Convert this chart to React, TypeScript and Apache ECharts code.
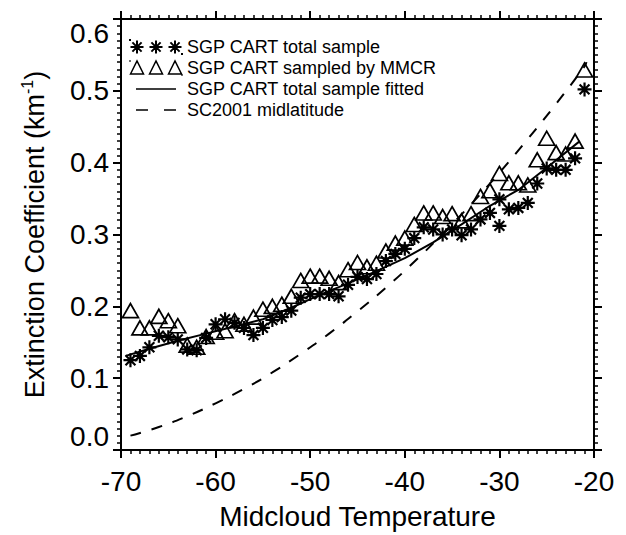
import React, { useEffect, useRef } from "react";
import * as echarts from "echarts";

const FONT = "'Liberation Sans', Arial, Helvetica, sans-serif";

const xTicks = [-70, -60, -50, -40, -30, -20];
const yTicks = [0.0, 0.1, 0.2, 0.3, 0.4, 0.5, 0.6];

const seriesNames = [
  "SGP CART total sample",
  "SGP CART sampled by MMCR",
  "SGP CART total sample fitted",
  "SC2001 midlatitude",
];

// SGP CART total sample (asterisks)
const totalT = [
  -69, -68, -67, -66, -65, -64, -63, -62, -61, -60, -59, -58, -57, -56, -55, -54, -53, -52, -51, -50,
  -49, -48, -47, -46, -45, -44, -43, -42, -41, -40, -39, -38, -37, -36, -35, -34, -33, -32, -31, -30,
  -30, -29, -28, -27, -26, -25, -24, -23, -22, -21,
];
const totalV = [
  0.125, 0.131, 0.143, 0.159, 0.157, 0.154, 0.14, 0.139, 0.156, 0.175, 0.182, 0.177, 0.17, 0.16, 0.17,
  0.181, 0.185, 0.194, 0.212, 0.217, 0.217, 0.217, 0.214, 0.23, 0.241, 0.238, 0.245, 0.263, 0.273, 0.28,
  0.295, 0.31, 0.307, 0.3, 0.307, 0.299, 0.307, 0.321, 0.33, 0.349, 0.312, 0.335, 0.337, 0.344, 0.371,
  0.392, 0.39, 0.39, 0.406, 0.502,
];

// SGP CART sampled by MMCR (triangles)
const mmcrT = [
  -69, -68, -67, -66, -65, -64, -63, -62, -61, -60, -59, -58, -57, -56, -55, -54, -53, -52, -51, -50,
  -49, -48, -47, -46, -45, -44, -43, -42, -41, -40, -39, -38, -37, -36, -35, -34, -33, -32, -31, -30,
  -29, -28, -27, -26, -25, -24, -23, -22, -21,
];
const mmcrV = [
  0.194, 0.17, 0.17, 0.186, 0.18, 0.173, 0.146, 0.143, 0.158, 0.164, 0.166, 0.18, 0.175, 0.185, 0.196,
  0.2, 0.203, 0.214, 0.236, 0.242, 0.242, 0.239, 0.233, 0.251, 0.261, 0.255, 0.26, 0.277, 0.288, 0.295,
  0.314, 0.33, 0.33, 0.325, 0.329, 0.319, 0.329, 0.353, 0.361, 0.385, 0.372, 0.372, 0.369, 0.404, 0.434,
  0.414, 0.412, 0.43, 0.529,
];

// fitted curve of the total sample
const fitT = [-69.5, -67, -64, -61, -58, -55, -52, -49, -46, -43, -40, -37, -34, -31, -28, -25, -21.5];
const fitV = [0.131, 0.141, 0.152, 0.162, 0.172, 0.182, 0.198, 0.216, 0.232, 0.249, 0.267, 0.289, 0.314, 0.34, 0.362, 0.393, 0.43];

// SC2001 midlatitude (dashed)
const scT = [-69, -66, -63, -60, -57, -54, -51, -48, -45, -42, -39, -36, -33, -30, -27, -24, -21, -20.8];
const scV = [0.02, 0.032, 0.047, 0.065, 0.085, 0.108, 0.134, 0.162, 0.193, 0.226, 0.262, 0.301, 0.342, 0.386, 0.433, 0.482, 0.534, 0.54];

const zip = (a: number[], b: number[]) => a.map((v, i) => [v, b[i]]);

function starPath(cx: number, cy: number, r: number) {
  const d = r * 0.7071;
  return (
    `M${cx} ${cy - r}L${cx} ${cy + r}M${cx - r} ${cy}L${cx + r} ${cy}` +
    `M${cx - d} ${cy - d}L${cx + d} ${cy + d}M${cx + d} ${cy - d}L${cx - d} ${cy + d}`
  );
}
function triPath(cx: number, w: number, h: number) {
  return `M${cx - w / 2} ${h}L${cx} 0L${cx + w / 2} ${h}Z`;
}
const STAR_SYMBOL = "path://" + starPath(10, 10, 10);
const BOX = "M0 0h0.01v0.01h-0.01zM51.99 13.99h0.01v0.01h-0.01z";
const LEG_STARS = "path://" + starPath(7, 7, 6.5) + starPath(26, 7, 6.5) + starPath(45, 7, 6.5) + BOX;
const LEG_TRIS = "path://" + triPath(7, 13, 13) + triPath(26, 13, 13) + triPath(45, 13, 13) + BOX;
const LEG_SOLID = "path://M6 6.2h40v1.6H6z" + BOX;
const LEG_DASH = "path://M6 6.2h12v1.6H6zM34 6.2h12v1.6H34z" + BOX;

export default function App() {
  const ref = useRef<HTMLDivElement>(null);
  useEffect(() => {
    if (!ref.current) return;
    const chart = echarts.init(ref.current, undefined, { renderer: "svg" });
    const axisLine = { show: true, onZero: false, lineStyle: { color: "#000", width: 2 } };
    const axisTick = { show: true, inside: false, length: 8, lineStyle: { color: "#000", width: 2 } };
    const minorTick = { show: true, splitNumber: 10, length: 4, lineStyle: { color: "#000", width: 1.5 } };
    const labelStyle = { color: "#000", fontSize: 28, fontFamily: FONT };
    chart.setOption({
      animation: false,
      backgroundColor: "#fff",
      grid: { left: 121, right: 32, top: 19, bottom: 84, containLabel: false },
      legend: {
        orient: "vertical",
        left: 129,
        top: 37,
        itemWidth: 52,
        itemHeight: 14,
        itemGap: 1,
        padding: 0,
        selectedMode: false,
        textStyle: { color: "#000", fontSize: 18, fontFamily: FONT, lineHeight: 20 },
        data: [
          { name: seriesNames[0], icon: LEG_STARS, itemStyle: { color: "transparent", borderColor: "#000", borderWidth: 2, opacity: 1 } },
          { name: seriesNames[1], icon: LEG_TRIS, itemStyle: { color: "transparent", borderColor: "#000", borderWidth: 1.5, opacity: 1 } },
          { name: seriesNames[2], icon: LEG_SOLID, itemStyle: { color: "#000", borderWidth: 0, opacity: 1 } },
          { name: seriesNames[3], icon: LEG_DASH, itemStyle: { color: "#000", borderWidth: 0, opacity: 1 } },
        ],
      },
      xAxis: [
        {
          type: "value",
          position: "bottom",
          min: xTicks[0],
          max: xTicks[xTicks.length - 1],
          interval: 10,
          axisLine,
          axisTick,
          minorTick,
          splitLine: { show: false },
          axisLabel: { ...labelStyle, margin: 17 },
          name: "Midcloud Temperature",
          nameLocation: "middle",
          nameGap: 52,
          nameTextStyle: { ...labelStyle },
        },
        {
          type: "value",
          position: "top",
          min: xTicks[0],
          max: xTicks[xTicks.length - 1],
          interval: 10,
          axisLine,
          axisTick,
          minorTick,
          splitLine: { show: false },
          axisLabel: { show: false },
        },
      ],
      yAxis: [
        {
          type: "value",
          position: "left",
          min: yTicks[0],
          max: yTicks[yTicks.length - 1],
          interval: 0.1,
          axisLine,
          axisTick,
          minorTick,
          splitLine: { show: false },
          axisLabel: {
            ...labelStyle,
            margin: 12,
            formatter: (v: number) => v.toFixed(1),
            verticalAlignMinLabel: "bottom",
            verticalAlignMaxLabel: "top",
          },
          name: "{a|Extinction Coefficient (km}{b|-1}{a|)}",
          nameLocation: "middle",
          nameGap: 70,
          nameRotate: 90,
          nameTextStyle: {
            rich: {
              a: { color: "#000", fontSize: 27, fontFamily: FONT, lineHeight: 32 },
              b: { color: "#000", fontSize: 16, fontFamily: FONT, lineHeight: 15, verticalAlign: "top" },
            },
          },
        },
        {
          type: "value",
          position: "right",
          min: yTicks[0],
          max: yTicks[yTicks.length - 1],
          interval: 0.1,
          axisLine,
          axisTick,
          minorTick,
          splitLine: { show: false },
          axisLabel: { show: false },
        },
      ],
      series: [
        {
          name: seriesNames[1],
          type: "scatter",
          data: zip(mmcrT, mmcrV),
          symbol: "triangle",
          symbolSize: [16, 14],
          itemStyle: { color: "transparent", borderColor: "#000", borderWidth: 1.7, opacity: 1 },
          z: 3,
        },
        {
          name: seriesNames[0],
          type: "scatter",
          data: zip(totalT, totalV),
          symbol: STAR_SYMBOL,
          symbolSize: 14,
          itemStyle: { color: "transparent", borderColor: "#000", borderWidth: 2.2, opacity: 1 },
          z: 4,
        },
        {
          name: seriesNames[2],
          type: "line",
          data: zip(fitT, fitV),
          showSymbol: false,
          symbol: "none",
          smooth: false,
          lineStyle: { color: "#000", width: 2, type: "solid" },
          z: 2,
        },
        {
          name: seriesNames[3],
          type: "line",
          data: zip(scT, scV),
          showSymbol: false,
          symbol: "none",
          smooth: true,
          lineStyle: { color: "#000", width: 2, type: [11, 11] },
          z: 2,
        },
      ],
    });
    return () => chart.dispose();
  }, []);
  return <div ref={ref} style={{ position: "absolute", left: 0, top: 0, width: 626, height: 535 }} />;
}
